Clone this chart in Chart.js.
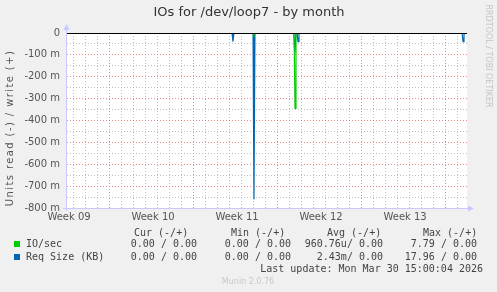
<!DOCTYPE html>
<html>
<head>
<meta charset="utf-8">
<script src="https://cdn.jsdelivr.net/npm/chart.js@4/dist/chart.umd.min.js"></script>
<style>
  html, body { margin: 0; padding: 0; background: #f0f0f0; }
  canvas { display: block; }
</style>
</head>
<body>
<canvas id="ioChart" width="497" height="292"></canvas>
<script>
// x values are days from the left edge of the graph
const weekLabels = ['Week 09', 'Week 10', 'Week 11', 'Week 12', 'Week 13'];
const yTickLabels = ['0', '-100 m', '-200 m', '-300 m', '-400 m', '-500 m', '-600 m', '-700 m', '-800 m'];

const ioTimes  = [0, 15.50, 15.58, 15.66, 18.92, 19.00, 19.08, 33.2];
const ioValues = [0, 0, -0.01, 0, 0, -0.345, 0, 0];

const reqTimes  = [0, 13.75, 13.83, 13.91, 15.50, 15.58, 15.66, 18.90, 18.98, 19.08, 19.17, 19.25, 19.33, 32.92, 33.0, 33.08, 33.2];
const reqValues = [0, 0, -0.04, 0, 0, -0.76, 0, 0, -0.09, 0, 0, -0.04, 0, 0, -0.04, 0, 0];

const legendHeader = ['Cur (-/+)', 'Min (-/+)', 'Avg (-/+)', 'Max (-/+)'];
const ioStats  = ['0.00 / 0.00', '0.00 / 0.00', '960.76u/ 0.00', '7.79 / 0.00'];
const reqStats = ['0.00 / 0.00', '0.00 / 0.00', '2.43m/ 0.00', '17.96 / 0.00'];

const GREEN = '#00cc00';
const BLUE = '#0066b3';
const RED_GRID = 'rgba(235, 110, 110, 0.8)';
const GRAY_GRID = 'rgba(175, 175, 175, 0.8)';

const toPoints = (xs, ys) => xs.map((x, i) => ({ x: x, y: ys[i] }));

// munin style frame, title and legend text
const muninFrame = {
    id: 'muninFrame',
    beforeDraw(chart) {
        const ctx = chart.ctx;
        const a = chart.chartArea;
        ctx.save();
        ctx.fillStyle = '#f0f0f0';
        ctx.fillRect(0, 0, chart.width, chart.height);
        ctx.fillStyle = '#ffffff';
        ctx.fillRect(a.left, a.top, a.right - a.left, a.bottom - a.top);
        ctx.restore();
    },
    afterDatasetsDraw(chart) {
        const ctx = chart.ctx;
        const a = chart.chartArea;
        ctx.save();
        // zero line
        ctx.strokeStyle = '#000000';
        ctx.lineWidth = 1;
        ctx.beginPath();
        ctx.moveTo(a.left, a.top + 0.5);
        ctx.lineTo(a.right, a.top + 0.5);
        ctx.stroke();
        // axes with arrows
        ctx.strokeStyle = '#c8c8ff';
        ctx.fillStyle = '#c8c8ff';
        ctx.beginPath();
        ctx.moveTo(a.left - 0.5, a.bottom + 3);
        ctx.lineTo(a.left - 0.5, a.top - 4);
        ctx.moveTo(a.left - 4, a.bottom + 0.5);
        ctx.lineTo(a.right + 2, a.bottom + 0.5);
        ctx.stroke();
        ctx.beginPath();
        ctx.moveTo(a.left - 3.5, a.top - 3);
        ctx.lineTo(a.left + 2.5, a.top - 3);
        ctx.lineTo(a.left - 0.5, a.top - 9);
        ctx.fill();
        ctx.beginPath();
        ctx.moveTo(a.right + 1, a.bottom - 2.5);
        ctx.lineTo(a.right + 1, a.bottom + 3.5);
        ctx.lineTo(a.right + 7, a.bottom + 0.5);
        ctx.fill();
        ctx.restore();
    },
    afterDraw(chart) {
        const ctx = chart.ctx;
        ctx.save();
        ctx.textBaseline = 'middle';

        ctx.fillStyle = '#333333';
        ctx.font = '13px "DejaVu Sans"';
        ctx.textAlign = 'center';
        ctx.fillText('IOs for /dev/loop7 - by month', 249, 13);

        ctx.fillStyle = '#555555';
        ctx.font = '10px "DejaVu Sans"';
        ctx.save();
        ctx.translate(10, 128);
        ctx.rotate(-Math.PI / 2);
        ctx.letterSpacing = '1.4px';
        ctx.fillText('Units read (-) / write (+)', 0, 0);
        ctx.restore();

        ctx.fillStyle = '#c4c4c4';
        ctx.font = '8px "DejaVu Sans"';
        ctx.save();
        ctx.translate(488, 56);
        ctx.rotate(Math.PI / 2);
        ctx.fillText('RRDTOOL / TOBI OETIKER', 0, 0);
        ctx.restore();

        ctx.fillStyle = '#444444';
        ctx.font = '10px "DejaVu Sans Mono"';
        ctx.textAlign = 'left';
        const headX = [134, 231, 327, 423];
        legendHeader.forEach((t, i) => ctx.fillText(t, headX[i], 233));
        const colRight = [197, 291, 383, 477];
        ctx.fillText('IO/sec', 26, 244.5);
        ctx.fillText('Req Size (KB)', 26, 257);
        ctx.textAlign = 'right';
        ioStats.forEach((t, i) => ctx.fillText(t, colRight[i], 244.5));
        reqStats.forEach((t, i) => ctx.fillText(t, colRight[i], 257));
        ctx.fillText('Last update: Mon Mar 30 15:00:04 2026', 483, 269.5);

        ctx.fillStyle = GREEN;
        ctx.fillRect(14, 241, 6, 6);
        ctx.fillStyle = BLUE;
        ctx.fillRect(14, 254, 6, 6);

        ctx.fillStyle = '#c8c8c8';
        ctx.font = '8px "DejaVu Sans"';
        ctx.textAlign = 'center';
        ctx.fillText('Munin 2.0.76', 248, 281.5);
        ctx.restore();
    }
};

document.addEventListener('DOMContentLoaded', function () {
    const ctx = document.getElementById('ioChart').getContext('2d');
    new Chart(ctx, {
        type: 'line',
        data: {
            datasets: [{
                label: 'IO/sec',
                data: toPoints(ioTimes, ioValues),
                borderColor: GREEN,
                borderWidth: 1.2,
                pointRadius: 0,
                tension: 0,
            }, {
                label: 'Req Size (KB)',
                data: toPoints(reqTimes, reqValues),
                borderColor: BLUE,
                borderWidth: 1.2,
                pointRadius: 0,
                tension: 0,
            }],
        },
        options: {
            responsive: false,
            animation: false,
            layout: {
                padding: { left: 0, top: 33, right: 30, bottom: 0 },
            },
            scales: {
                x: {
                    type: 'linear',
                    min: 0,
                    max: 33.33,
                    afterFit(scale) { scale.height = 84; },
                    afterBuildTicks(scale) {
                        const ticks = [];
                        for (let k = 0; k < 33; k++) {
                            ticks.push({ value: 0.58 + k, kind: (k % 7 === 3) ? 'major' : 'minor' });
                        }
                        weekLabels.forEach((w, i) => ticks.push({ value: 0.17 + 7 * i, kind: 'label', text: w }));
                        scale.ticks = ticks;
                    },
                    ticks: {
                        autoSkip: false,
                        maxRotation: 0,
                        padding: 3,
                        color: '#555555',
                        font: { family: 'DejaVu Sans', size: 10 },
                        callback(value, index, ticks) {
                            return ticks[index].kind === 'label' ? ticks[index].text : '';
                        },
                    },
                    grid: {
                        drawTicks: false,
                        color(c) {
                            if (!c.tick) return 'transparent';
                            if (c.tick.kind === 'label') return 'transparent';
                            return c.tick.kind === 'major' ? RED_GRID : GRAY_GRID;
                        },
                    },
                    border: { display: false, dash: [1, 2] },
                },
                y: {
                    min: -0.8,
                    max: 0,
                    afterFit(scale) { scale.width = 67; },
                    afterBuildTicks(scale) {
                        const ticks = [];
                        for (let i = 16; i >= 0; i--) {
                            ticks.push({ value: -i * 0.05, idx: i });
                        }
                        scale.ticks = ticks;
                    },
                    ticks: {
                        autoSkip: false,
                        padding: 7,
                        color: '#555555',
                        font: { family: 'DejaVu Sans', size: 10 },
                        callback(value, index, ticks) {
                            const i = ticks[index].idx;
                            return i % 2 === 0 ? yTickLabels[i / 2] : '';
                        },
                    },
                    grid: {
                        drawTicks: false,
                        color(c) {
                            if (!c.tick) return 'transparent';
                            if (c.tick.idx === 0) return 'transparent';
                            return c.tick.idx % 2 === 0 ? RED_GRID : GRAY_GRID;
                        },
                    },
                    border: { display: false, dash: [1, 2] },
                },
            },
            plugins: {
                legend: { display: false },
                tooltip: { enabled: false },
            },
        },
        plugins: [muninFrame],
    });
});
</script>
</body>
</html>
